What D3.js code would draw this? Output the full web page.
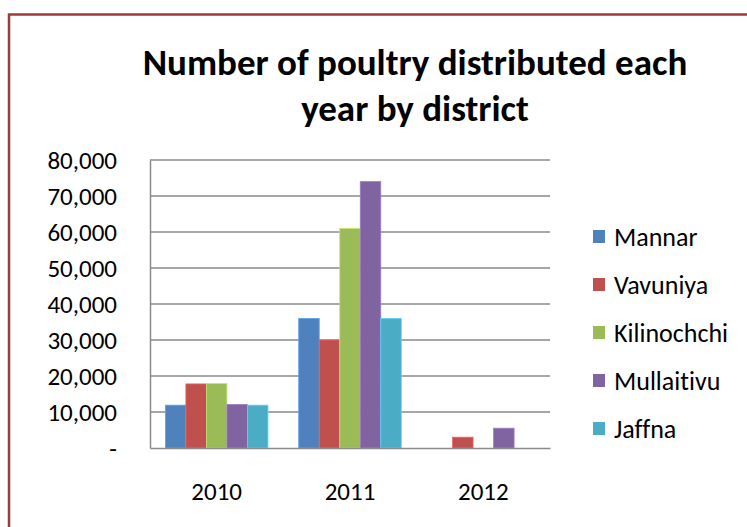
<!DOCTYPE html>
<html>
<head>
<meta charset="utf-8">
<script src="https://cdn.jsdelivr.net/npm/d3@7"></script>
<style>
  html, body { margin: 0; padding: 0; background: #fff; overflow: hidden; }
  svg { display: block; font-family: Carlito, Calibri, Lato, sans-serif; font-variant-ligatures: none; }
</style>
</head>
<body>
<svg id="chart" width="747" height="527"></svg>
<script>
// Poultry distributed per district, by year
const categories = ["2010", "2011", "2012"];
const seriesNames = ["Mannar", "Vavuniya", "Kilinochchi", "Mullaitivu", "Jaffna"];
const mannar      = [11900, 36000, 0];
const vavuniya    = [17800, 30000, 3000];
const kilinochchi = [17900, 61000, 0];
const mullaitivu  = [12100, 74000, 5500];
const jaffna      = [11900, 36000, 0];
const yTicks = [0, 10000, 20000, 30000, 40000, 50000, 60000, 70000, 80000];
const seriesColors = ["#4F81BD", "#C0504D", "#9BBB59", "#8064A2", "#4BACC6"];
const titleLines = ["Number of poultry distributed each", "year by district"];

const seriesValues = [mannar, vavuniya, kilinochchi, mullaitivu, jaffna];
const rows = [];
categories.forEach((cat, ci) => {
  seriesNames.forEach((name, si) => {
    rows.push({ cat, name, value: seriesValues[si][ci], color: seriesColors[si] });
  });
});

const svg = d3.select("#chart");
const plot = { left: 150, right: 550, top: 160, bottom: 448 };
const labelSize = 25;

// Chart frame
svg.append("rect")
  .attr("x", 9).attr("y", 14.5)
  .attr("width", 760).attr("height", 540)
  .attr("fill", "none")
  .attr("stroke", "#9E3A38")
  .attr("stroke-width", 2.5);

// Title
svg.append("g").selectAll("text")
  .data(titleLines)
  .join("text")
  .attr("x", 415)
  .attr("y", (d, i) => 75 + i * 46)
  .attr("text-anchor", "middle")
  .attr("font-weight", "bold")
  .attr("font-size", 37)
  .attr("fill", "#000")
  .text(d => d);

const x0 = d3.scaleBand().domain(categories).range([plot.left, plot.right]);
const x1 = d3.scaleBand().domain(seriesNames)
  .range([0, x0.bandwidth()])
  .paddingInner(0).paddingOuter(0.75);
const y = d3.scaleLinear().domain([0, 80000]).range([plot.bottom, plot.top]);

// Horizontal gridlines
svg.append("g").selectAll("line")
  .data(yTicks.filter(d => d > 0))
  .join("line")
  .attr("x1", plot.left).attr("x2", plot.right)
  .attr("y1", d => y(d)).attr("y2", d => y(d))
  .attr("stroke", "#8A8A8A")
  .attr("stroke-width", 1.5);

// Bars
svg.append("g").selectAll("rect")
  .data(rows.filter(d => d.value > 0))
  .join("rect")
  .attr("x", d => x0(d.cat) + x1(d.name))
  .attr("y", d => y(d.value))
  .attr("width", x1.bandwidth())
  .attr("height", d => y(0) - y(d.value))
  .attr("fill", d => d.color)
  .attr("stroke", d => d3.color(d.color).brighter(0.6))
  .attr("stroke-width", 0.8);

// Y axis
const yAxis = svg.append("g")
  .attr("transform", `translate(${plot.left},0)`)
  .call(d3.axisLeft(y)
    .tickValues(yTicks)
    .tickSize(0)
    .tickPadding(33)
    .tickFormat(d => d === 0 ? "-" : d3.format(",")(d)));
yAxis.select(".domain").attr("stroke", "#8A8A8A").attr("stroke-width", 1.5);
yAxis.selectAll("text")
  .attr("font-family", "Carlito, Calibri, Lato, sans-serif")
  .attr("font-size", labelSize)
  .attr("fill", "#000");

// X axis
const xAxis = svg.append("g")
  .attr("transform", `translate(0,${plot.bottom})`)
  .call(d3.axisBottom(x0).tickSize(0).tickPadding(34));
xAxis.select(".domain").attr("stroke", "#8A8A8A").attr("stroke-width", 1.5);
xAxis.selectAll("text")
  .attr("font-family", "Carlito, Calibri, Lato, sans-serif")
  .attr("font-size", labelSize)
  .attr("fill", "#000");

// Legend
const legend = svg.append("g").selectAll("g")
  .data(seriesNames)
  .join("g")
  .attr("transform", (d, i) => `translate(593,${237 + i * 48})`);
legend.append("rect")
  .attr("x", 0).attr("y", -7)
  .attr("width", 12).attr("height", 13)
  .attr("fill", (d, i) => seriesColors[i]);
legend.append("text")
  .attr("x", 21).attr("y", 0)
  .attr("dy", "0.35em")
  .attr("font-size", 26)
  .attr("fill", "#000")
  .text(d => d);
</script>
</body>
</html>
